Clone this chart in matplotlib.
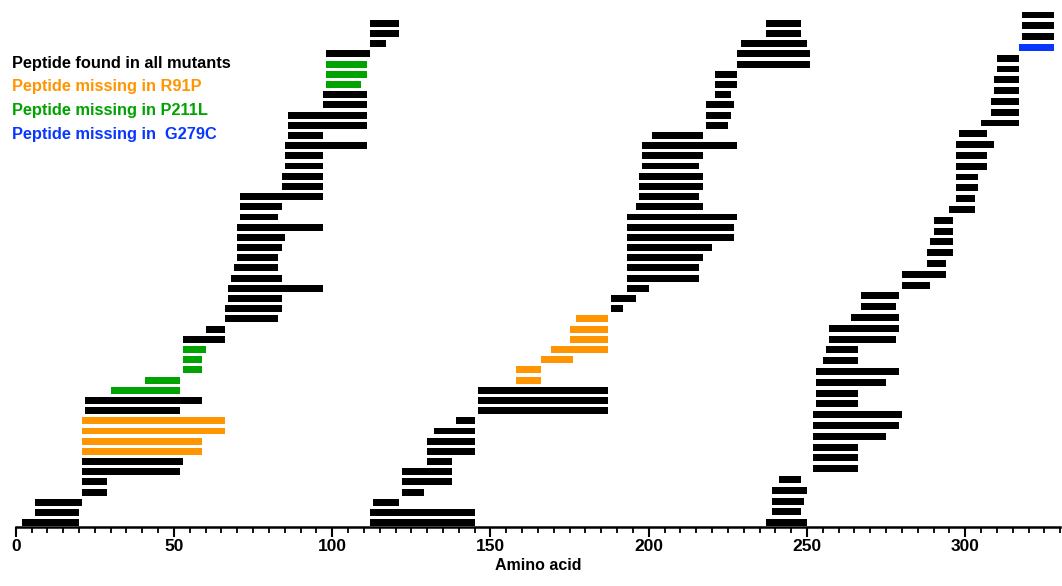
import numpy as np
import matplotlib
matplotlib.use("Agg")
import matplotlib.pyplot as plt
from matplotlib.ticker import MultipleLocator

plt.rcParams['font.family'] = ['Liberation Sans', 'DejaVu Sans']
plt.rcParams['font.weight'] = 'bold'

# peptide start / end residues, stacked bottom-to-top, three staircases
# category codes: A = found in all mutants, R = missing in R91P,
#                 P = missing in P211L, G = missing in G279C
starts1 = [2, 6, 6, 21, 21, 21, 21, 21, 21, 21, 21, 22, 22, 30, 41, 53, 53, 53, 53, 60,
           66, 66, 67, 67, 68, 69, 70, 70, 70, 70, 71, 71, 71, 84, 84, 85, 85, 85, 86, 86,
           86, 97, 97, 98, 98, 98, 98, 112, 112, 112]
ends1 = [20, 20, 21, 29, 29, 52, 53, 59, 59, 66, 66, 52, 59, 52, 52, 59, 59, 60, 66, 66,
         83, 84, 84, 97, 84, 83, 83, 84, 85, 97, 83, 84, 97, 97, 97, 97, 97, 111, 97, 111,
         111, 111, 111, 109, 111, 111, 112, 117, 121, 121]
cats1 = "AAAAAAARRRRAAPPPPPAA" + "AAAAAAAAAAAAAAAAAAAAAAA" + "PPPAAAA"

starts2 = [112, 112, 113, 122, 122, 122, 130, 130, 130, 132, 139, 146, 146, 146, 158, 158, 166, 169, 175, 175,
           177, 188, 188, 193, 193, 193, 193, 193, 193, 193, 193, 196, 197, 197, 197, 198, 198, 198, 201, 218,
           218, 218, 221, 221, 221, 228, 228, 229, 237, 237]
ends2 = [145, 145, 121, 129, 138, 138, 138, 145, 145, 145, 145, 187, 187, 187, 166, 166, 176, 187, 187, 187,
         187, 192, 196, 200, 216, 216, 217, 220, 227, 227, 228, 217, 216, 217, 217, 216, 217, 228, 217, 225,
         226, 227, 226, 228, 228, 251, 251, 250, 248, 248]
cats2 = "AAAAAAAAAAAAAA" + "RRRRRRR" + "A" * 29

starts3 = [237, 239, 239, 239, 241, 252, 252, 252, 252, 252, 252, 253, 253, 253, 253, 255, 256, 257, 257, 264,
           267, 267, 280, 280, 288, 288, 289, 290, 290, 295, 297, 297, 297, 297, 297, 297, 298, 305, 308, 308,
           309, 309, 310, 310, 317, 318, 318, 318]
ends3 = [250, 248, 249, 250, 248, 266, 266, 266, 275, 279, 280, 266, 266, 275, 279, 266, 266, 278, 279, 279,
         278, 279, 289, 294, 294, 296, 296, 296, 296, 303, 303, 304, 304, 307, 307, 309, 307, 317, 317, 317,
         317, 317, 317, 317, 328, 328, 328, 328]
cats3 = "A" * 44 + "G" + "AAA"

colors = {'A': '#000000', 'R': '#FF9500', 'P': '#00A300', 'G': '#0A37FF'}
legend_labels = [('A', 'Peptide found in all mutants'),
                 ('R', 'Peptide missing in R91P'),
                 ('P', 'Peptide missing in P211L'),
                 ('G', 'Peptide missing in  G279C')]

fig = plt.figure(figsize=(10.62, 5.86), dpi=100)
ax = fig.add_axes([15.7 / 1062, 59.3 / 586, 1044.5 / 1062, 521.7 / 586])

# the third staircase is drawn with a slightly wider row pitch
for starts, ends, cats, pitch in [(starts1, ends1, cats1, 1.0),
                                  (starts2, ends2, cats2, 1.0),
                                  (starts3, ends3, cats3, 1.06)]:
    s = np.array(starts)
    e = np.array(ends)
    y = np.arange(len(s)) * pitch
    ax.barh(y, e - s, left=s, height=0.68,
            color=[colors[c] for c in cats], linewidth=0)

ax.set_xlim(0, 330)
ax.set_ylim(-0.39, 50.8)
ax.xaxis.set_major_locator(MultipleLocator(50))
ax.xaxis.set_minor_locator(MultipleLocator(5))
ax.tick_params(axis='x', which='major', length=7, width=1.5, labelsize=12.5, pad=2)
ax.tick_params(axis='x', which='minor', length=4, width=1.3)
for lab in ax.get_xticklabels():
    lab.set_fontweight('bold')
ax.set_yticks([])
for side in ['left', 'right', 'top']:
    ax.spines[side].set_visible(False)
ax.spines['bottom'].set_linewidth(1.8)
ax.set_xlabel('Amino acid', fontsize=11.5, fontweight='bold', labelpad=3)

for i, (key, text) in enumerate(legend_labels):
    fig.text(12 / 1062, 1 - (63.3 + i * 23.7) / 586, text, color=colors[key],
             fontsize=11.8, fontweight='bold', va='center', ha='left')

fig.savefig('out.png', dpi=100)
